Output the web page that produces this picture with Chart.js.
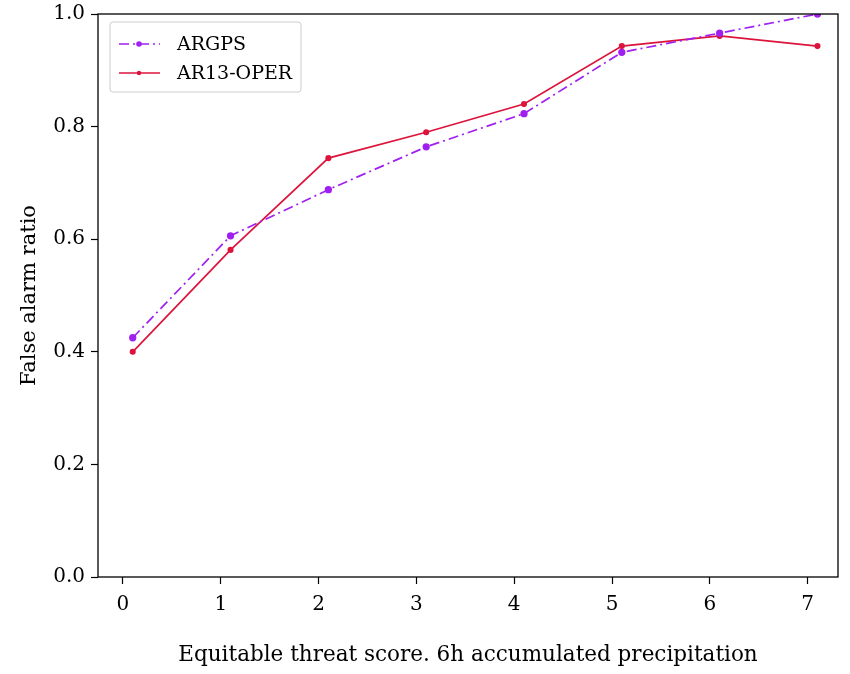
<!DOCTYPE html>
<html>
<head>
<meta charset="utf-8">
<script src="https://cdn.jsdelivr.net/npm/chart.js@4/dist/chart.umd.min.js"></script>
<style>
  html, body { margin: 0; padding: 0; background: #fff; }
  #wrap { width: 850px; height: 674px; }
</style>
</head>
<body>
<div id="wrap"><canvas id="farChart" width="850" height="674"></canvas></div>
<script>
// datos
const xPositions = [0.1, 1.1, 2.1, 3.1, 4.1, 5.1, 6.1, 7.1];
const argps = [0.425, 0.606, 0.688, 0.764, 0.823, 0.932, 0.966, 1.0];
const ar13oper = [0.400, 0.581, 0.744, 0.790, 0.840, 0.943, 0.961, 0.943];
const xTicks = [0, 1, 2, 3, 4, 5, 6, 7];
const yTicks = [0, 0.2, 0.4, 0.6, 0.8, 1.0];

const serif = "'DejaVu Serif', 'Liberation Serif', serif";

const toPoints = (vals) => vals.map((v, i) => ({ x: xPositions[i], y: v }));

// marco completo alrededor del area del grafico + leyenda interior
const framePlugin = {
    id: 'frame',
    afterDraw(chart) {
        const { ctx, chartArea: a } = chart;
        ctx.save();
        ctx.strokeStyle = '#000';
        ctx.lineWidth = 1.3;
        ctx.strokeRect(a.left, a.top, a.right - a.left, a.bottom - a.top);

        // leyenda
        const lx = a.left + 12, ly = a.top + 8, lw = 191, lh = 70;
        ctx.fillStyle = 'rgba(255,255,255,0.85)';
        ctx.strokeStyle = '#ccc';
        ctx.lineWidth = 1;
        ctx.beginPath();
        ctx.roundRect(lx, ly, lw, lh, 3);
        ctx.fill();
        ctx.stroke();

        const items = chart.data.datasets;
        items.forEach((ds, i) => {
            const y = ly + 22 + i * 29;
            ctx.strokeStyle = ds.borderColor;
            ctx.lineWidth = 1.7;
            ctx.setLineDash(ds.borderDash || []);
            ctx.beginPath();
            ctx.moveTo(lx + 9, y);
            ctx.lineTo(lx + 50, y);
            ctx.stroke();
            ctx.setLineDash([]);
            ctx.fillStyle = ds.borderColor;
            ctx.beginPath();
            ctx.arc(lx + 29, y, i === 0 ? 2.8 : 2.2, 0, Math.PI * 2);
            ctx.fill();
            ctx.fillStyle = '#000';
            ctx.font = '19px ' + serif;
            ctx.textBaseline = 'middle';
            ctx.textAlign = 'left';
            ctx.fillText(ds.label, lx + 67, y + 1);
        });
        ctx.restore();
    }
};

const config = {
    type: 'line',
    data: {
        datasets: [
            {
                label: 'ARGPS',
                data: toPoints(argps),
                borderColor: '#a020f0',
                backgroundColor: '#a020f0',
                borderWidth: 1.7,
                borderDash: [10, 4, 2, 4],
                pointRadius: 2.8,
                pointHoverRadius: 2.8,
                tension: 0
            },
            {
                label: 'AR13-OPER',
                data: toPoints(ar13oper),
                borderColor: '#dc143c',
                backgroundColor: '#dc143c',
                borderWidth: 1.7,
                pointRadius: 2.2,
                pointHoverRadius: 2.2,
                tension: 0
            }
        ]
    },
    options: {
        responsive: false,
        animation: false,
        events: [],
        layout: { padding: { left: 0, top: 14, right: 12, bottom: 0 } },
        plugins: {
            legend: { display: false },
            tooltip: { enabled: false }
        },
        scales: {
            x: {
                type: 'linear',
                min: -0.255,
                max: 7.31,
                afterBuildTicks: (scale) => { scale.ticks = xTicks.map(v => ({ value: v })); },
                afterFit: (scale) => { scale.height = 97; scale.paddingLeft = 0; scale.paddingRight = 0; },
                grid: { display: true, drawOnChartArea: false, drawTicks: true, tickLength: 7, color: '#000', tickWidth: 1.2 },
                border: { display: false },
                ticks: {
                    color: '#000',
                    font: { family: serif, size: 20 },
                    padding: 9,
                    maxRotation: 0,
                    callback: (v) => String(v)
                },
                title: {
                    display: true,
                    text: 'Equitable threat score. 6h accumulated precipitation',
                    color: '#000',
                    font: { family: serif, size: 21.5 },
                    padding: { top: 18, bottom: 6 }
                }
            },
            y: {
                type: 'linear',
                min: 0,
                max: 1.0,
                afterBuildTicks: (scale) => { scale.ticks = yTicks.map(v => ({ value: v })); },
                afterFit: (scale) => { scale.width = 98; scale.paddingTop = 0; scale.paddingBottom = 0; },
                grid: { display: true, drawOnChartArea: false, drawTicks: true, tickLength: 7, color: '#000', tickWidth: 1.2 },
                border: { display: false },
                ticks: {
                    color: '#000',
                    font: { family: serif, size: 20 },
                    padding: 6,
                    callback: (v) => v.toFixed(1)
                },
                title: {
                    display: true,
                    text: 'False alarm ratio',
                    color: '#000',
                    font: { family: serif, size: 21 },
                    padding: { top: 17, bottom: 8 }
                }
            }
        }
    },
    plugins: [framePlugin]
};

const farChart = new Chart(document.getElementById('farChart'), config);
</script>
</body>
</html>
